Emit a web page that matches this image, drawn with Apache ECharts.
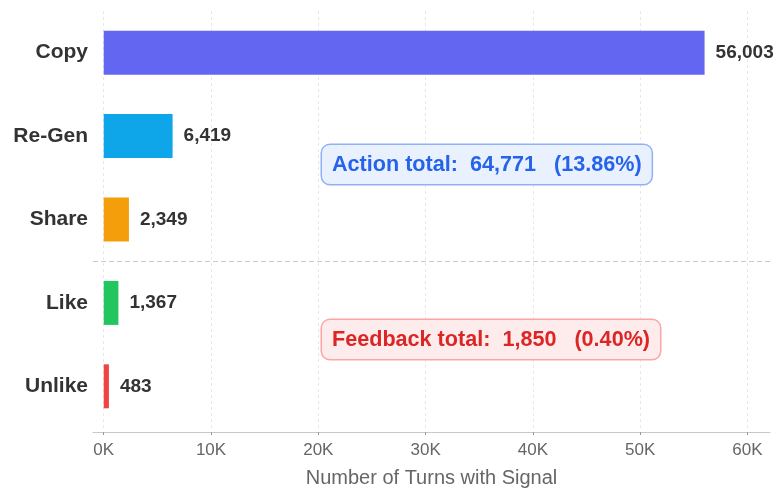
<!DOCTYPE html>
<html>
<head>
<meta charset="utf-8">
<script src="https://cdn.jsdelivr.net/npm/echarts@6/dist/echarts.min.js"></script>
<style>
html,body{margin:0;padding:0;background:#fff;}
#c{width:779px;height:488px;}
</style>
</head>
<body>
<div id="c"></div>
<script>
const categories = ['Copy', 'Re-Gen', 'Share', 'Like', 'Unlike'];
const values = [56003, 6419, 2349, 1367, 483];
const barColors = ['#6366F1', '#0EA5E9', '#F59E0B', '#22C55E', '#EF4444'];
const tickValues = [0, 10000, 20000, 30000, 40000, 50000, 60000];
const actionTotal = { label: 'Action total:', value: 64771, pct: '13.86%' };
const feedbackTotal = { label: 'Feedback total:', value: 1850, pct: '0.40%' };

function fmt(n) { return String(n).replace(/\B(?=(\d{3})+(?!\d))/g, ','); }

const chart = echarts.init(document.getElementById('c'), null, { renderer: 'canvas' });
const option = {
  animation: false,
  backgroundColor: '#ffffff',
  grid: { left: 93, right: 9, top: 11, height: 417, containLabel: false, outerBoundsMode: 'none' },
  xAxis: {
    type: 'value',
    min: -1000,
    max: 62100,
    offset: 4,
    name: 'Number of Turns with Signal',
    nameLocation: 'middle',
    nameGap: 36,
    nameTextStyle: { fontFamily: 'Liberation Sans', fontSize: 20, color: '#666666' },
    axisLine: { show: true, lineStyle: { color: '#c8c8c8', width: 1 } },
    axisTick: { show: true, length: 3, lineStyle: { color: '#999999' }, customValues: tickValues },
    axisLabel: {
      customValues: tickValues,
      formatter: v => (v / 1000) + 'K',
      fontFamily: 'Liberation Sans', fontSize: 17, color: '#666666', margin: 10
    },
    splitLine: { show: true, lineStyle: { color: '#e8e8e8', type: [3, 3], width: 1 } }
  },
  yAxis: {
    type: 'category',
    data: categories,
    inverse: true,
    axisLine: { show: false },
    axisTick: { show: false },
    axisLabel: { fontFamily: 'Liberation Sans', fontWeight: 'bold', fontSize: 21, color: '#333333', margin: 5 }
  },
  series: [{
    type: 'bar',
    barWidth: 44,
    data: values.map((v, i) => ({ value: v, itemStyle: { color: barColors[i] } })),
    label: {
      show: true,
      position: 'right',
      distance: 11,
      formatter: p => fmt(p.value),
      fontFamily: 'Liberation Sans', fontWeight: 'bold', fontSize: 19, color: '#333333'
    }
  }]
};
chart.setOption(option);

const yShare = chart.convertToPixel({ yAxisIndex: 0 }, 'Share');
const yLike = chart.convertToPixel({ yAxisIndex: 0 }, 'Like');
const sepY = Math.round((yShare + yLike) / 2) + 0.5;
const boxText = t => t.label + '  ' + fmt(t.value) + '   (' + t.pct + ')';

chart.setOption({
  graphic: [
    {
      type: 'line', z: 1,
      shape: { x1: 93, y1: sepY, x2: 770, y2: sepY },
      style: { stroke: '#c8c8c8', lineWidth: 1, lineDash: [5, 3] }
    },
    {
      type: 'text', z: 10, x: 322, y: 145,
      style: {
        text: boxText(actionTotal),
        font: 'bold 21.6px "Liberation Sans"',
        fill: '#2563EB',
        backgroundColor: '#EAF1FE',
        borderColor: '#8FB2F6',
        borderWidth: 1.5,
        borderRadius: 8,
        padding: [9, 10, 8, 10]
      }
    },
    {
      type: 'text', z: 10, x: 322, y: 320,
      style: {
        text: boxText(feedbackTotal),
        font: 'bold 21.6px "Liberation Sans"',
        fill: '#DC2626',
        backgroundColor: '#FEECEC',
        borderColor: '#FBA5A5',
        borderWidth: 1.5,
        borderRadius: 8,
        padding: [9, 10, 8, 10]
      }
    }
  ]
});
</script>
</body>
</html>
